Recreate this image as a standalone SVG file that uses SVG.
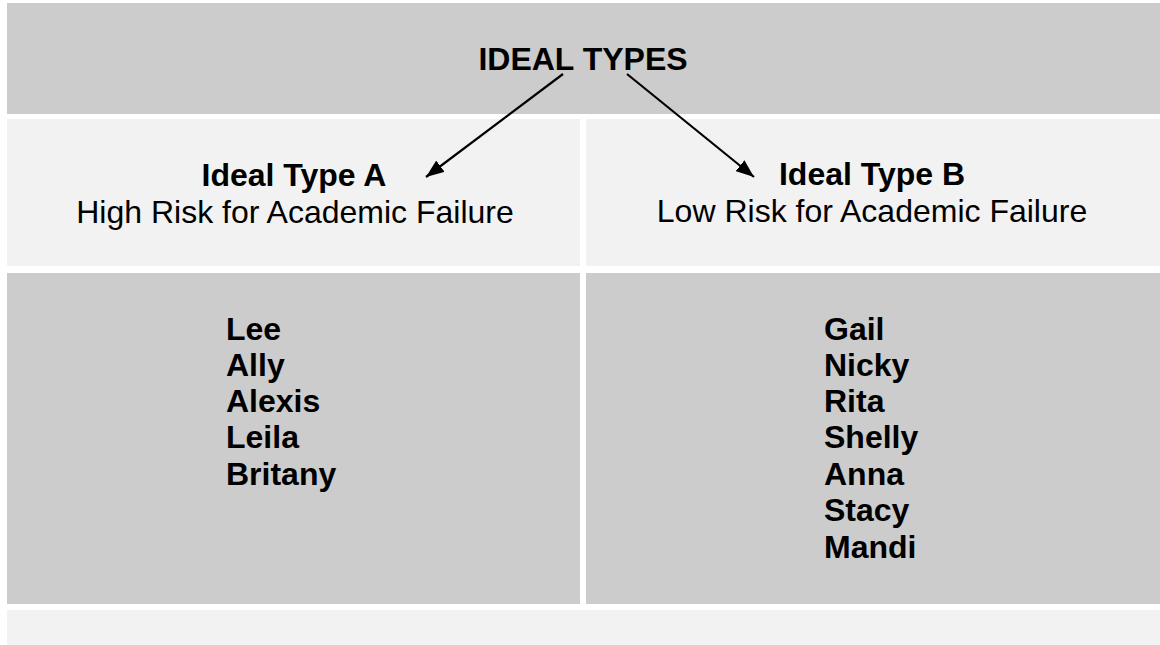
<svg xmlns="http://www.w3.org/2000/svg" width="1160" height="645" viewBox="0 0 1160 645">
<style>
.dark{fill:#cccccc}
.light{fill:#f2f2f2}
text{font-family:"Liberation Sans",Arial,sans-serif;font-size:32px;fill:#000}
.b{font-weight:bold}
.c{text-anchor:middle}
.arr{stroke:#000;stroke-width:2.2;fill:none;marker-end:url(#ah)}
</style>
<defs>
<marker id="ah" viewBox="0 0 10 10" refX="10" refY="5" markerWidth="18" markerHeight="14" markerUnits="userSpaceOnUse" orient="auto" preserveAspectRatio="none">
<path d="M0,0 L10,5 L0,10 z" fill="#000"/>
</marker>
</defs>
<rect width="1160" height="645" fill="#ffffff"/>
<g id="top">
<rect class="dark" x="7" y="3" width="1153" height="111"/>
<text class="b c" x="583" y="70">IDEAL TYPES</text>
</g>
<g id="typeA">
<rect class="light" x="7" y="119" width="573" height="147"/>
<text class="b c" x="294" y="186">Ideal Type A</text>
<text class="c" x="295" y="223">High Risk for Academic Failure</text>
</g>
<g id="typeB">
<rect class="light" x="586" y="119" width="574" height="147"/>
<text class="b c" x="872" y="185">Ideal Type B</text>
<text class="c" x="872" y="222">Low Risk for Academic Failure</text>
</g>
<g id="namesA">
<rect class="dark" x="7" y="273" width="573" height="331"/>
<text class="b" x="226" y="340">Lee</text>
<text class="b" x="226" y="376">Ally</text>
<text class="b" x="226" y="412">Alexis</text>
<text class="b" x="226" y="448">Leila</text>
<text class="b" x="226" y="485">Britany</text>
</g>
<g id="namesB">
<rect class="dark" x="586" y="273" width="574" height="331"/>
<text class="b" x="824" y="340">Gail</text>
<text class="b" x="824" y="376">Nicky</text>
<text class="b" x="824" y="412">Rita</text>
<text class="b" x="824" y="448">Shelly</text>
<text class="b" x="824" y="485">Anna</text>
<text class="b" x="824" y="521">Stacy</text>
<text class="b" x="824" y="558">Mandi</text>
</g>
<g id="footer">
<rect class="light" x="7" y="610" width="1153" height="35"/>
</g>
<g id="connectors">
<line class="arr" x1="563" y1="74" x2="426" y2="177"/>
<line class="arr" x1="627" y1="74" x2="754" y2="177"/>
</g>
</svg>
